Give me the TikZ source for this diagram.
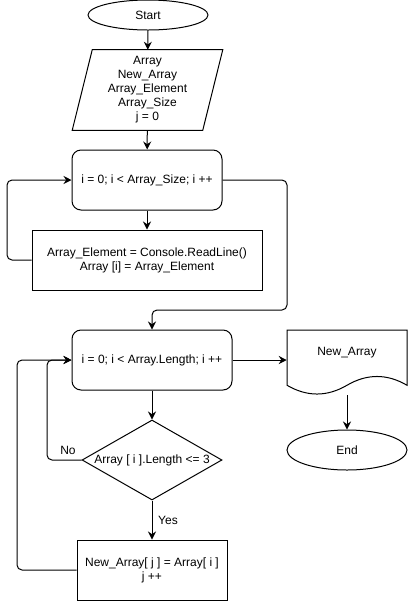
\documentclass[tikz,border=0pt]{standalone}
\usepackage{fontspec}
\setmainfont{Liberation Sans}
\usetikzlibrary{shapes.geometric,arrows.meta}
\begin{document}
\begin{tikzpicture}[x=0.75pt,y=-0.75pt,
  every node/.style={font=\fontsize{9}{10.5}\selectfont, align=center, inner sep=0pt, text=black},
  ln/.style={line width=0.75pt, draw=black},
  arr/.style={ln, -{Stealth[length=6pt,width=6pt,inset=2pt]}, rounded corners=3.75pt},
  term/.style={ln, ellipse, minimum width=90pt},
  procbox/.style={ln, rectangle, minimum height=45pt},
  loopbox/.style={ln, rectangle, rounded corners=6.75pt, minimum height=45pt},
  plain/.style={rectangle},
]
\useasboundingbox (0,0) rectangle (408,601);

% nodes
\node[term, minimum height=22.5pt] (start) at (148,15) {Start};
\node[plain, minimum width=112.5pt, minimum height=60pt] (inp) at (147.5,90)
  {Array\\New\_Array\\Array\_Element\\Array\_Size\\j = 0};
\draw[ln] (inp.south west) -- ([xshift=-15pt]inp.south east) -- (inp.north east)
  -- ([xshift=15pt]inp.north west) -- cycle;
\node[loopbox, minimum width=112.5pt] (loop1) at (147,180) {i = 0; i < Array\_Size; i ++};
\node[procbox, minimum width=172.5pt] (body1) at (147,260)
  {Array\_Element = Console.ReadLine()\\Array [i] = Array\_Element};
\node[loopbox, minimum width=120pt] (loop2) at (152,360) {i = 0; i < Array.Length; i ++};
\node[plain, minimum width=90pt, minimum height=48.75pt] (doc) at (347,362.5) {};
\draw[ln] (287,385.25) -- (287,330) -- (407,330) -- (407,385.25)
  .. controls (387,373.55) and (367,373.55) .. (347,385.25)
  .. controls (327,396.95) and (307,396.95) .. cycle;
\node (docl) at (347,353) {New\_Array};
\node[term, minimum height=30pt] (end) at (347,450) {End};
\node[ln, diamond, aspect=1.75, minimum width=105pt, minimum height=60pt] (dec) at (152,460)
  {Array [ i ].Length <= 3};
\node[procbox, minimum width=112.5pt] (body2) at (152,570)
  {New\_Array[ j ] = Array[ i ]\\j ++};

% connectors
\draw[arr] (start) -- (inp);
\draw[arr] (inp) -- (loop1);
\draw[arr] (loop1) -- (body1);
\draw[arr] (body1.west) -- (7,260) -- (7,180) -- (loop1.west);
\draw[arr] (loop1.east) -- (287,180) -- (287,310) -- (152,310) -- (loop2.north);
\draw[arr] (loop2.east) -- (loop2.east -| doc.west);
\draw[arr] (doc.south) -- (end.north);
\draw[arr] (loop2) -- (dec);
\draw[arr] (dec.west) -- (47,460) -- (47,360) -- (loop2.west);
\node (nolab) at (68,450) {No};
\draw[arr] (dec.south) -- (body2.north);
\node (yeslab) at (168,520) {Yes};
\draw[arr] (body2.west) -- (17,570) -- (17,360) -- (loop2.west);
\end{tikzpicture}
\end{document}
